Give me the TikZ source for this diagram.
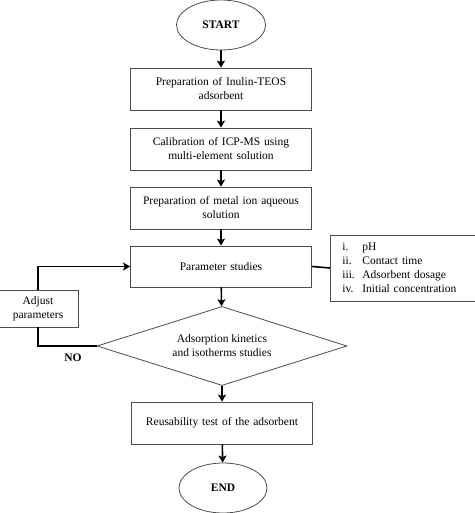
\documentclass[tikz,border=0pt]{standalone}
\usepackage{fontspec}
\setmainfont{Liberation Serif}
\usetikzlibrary{shapes.geometric,arrows.meta}
\begin{document}
\begin{tikzpicture}[x=1pt,y=-1pt,>={Stealth[length=7pt,width=8pt,inset=1.5pt]}]
  \tikzstyle{term}=[draw=black!70, line width=0.8pt, ellipse, minimum width=89pt, minimum height=50pt,
    font=\fontsize{11.5}{14}\selectfont\bfseries]
  \tikzstyle{procbox}=[draw=black!70, line width=0.8pt, minimum width=181pt, minimum height=42pt,
    text width=174pt, align=center, font=\fontsize{11.5}{14}\selectfont]
  \tikzstyle{flow}=[->, line width=1.6pt]
  \useasboundingbox (0,0) rectangle (474,513);

  \node[term] (start) at (221,25) {START};
  \node[procbox] (prep) at (221,89) {Preparation of Inulin-TEOS\\adsorbent};
  \node[procbox] (calib) at (221,149) {Calibration of ICP-MS using\\multi-element solution};
  \node[procbox] (metal) at (221,208) {Preparation of metal ion aqueous\\solution};
  \node[procbox, minimum height=41pt] (param) at (221,266.5) {Parameter studies};
  \node[draw=black!70, line width=0.8pt, diamond, shape aspect=3.16, minimum width=250pt,
    minimum height=79pt, inner sep=1pt, align=center, font=\fontsize{11.5}{14}\selectfont]
    (ads) at (222,346) {Adsorption kinetics\\and isotherms studies};
  \node[procbox] (reuse) at (222,423) {Reusability test of the adsorbent};
  \node[term, minimum width=88pt] (stop) at (223,488) {END};

  \node[draw=black!70, line width=0.8pt, minimum width=80pt, minimum height=37pt, align=center,
    font=\fontsize{11.5}{14}\selectfont] (adj) at (38,308.5) {Adjust\\parameters};
  \node[draw=black!70, line width=0.8pt, anchor=west, minimum height=66pt, text width=132pt,
    inner xsep=12pt, align=left, font=\fontsize{11.5}{14}\selectfont] (factors) at (330,268)
    {\makebox[20pt][l]{i.}pH\\\makebox[20pt][l]{ii.}Contact time\\
     \makebox[20pt][l]{iii.}Adsorbent dosage\\\makebox[20pt][l]{iv.}Initial concentration};

  \draw[flow] (start) -- (prep);
  \draw[flow] (prep) -- (calib);
  \draw[flow] (calib) -- (metal);
  \draw[flow] (metal) -- (param);
  \draw[flow] (param) -- (ads);
  \draw[flow] (ads) -- (reuse);
  \draw[flow] (reuse) -- (stop);
  \draw[line width=1.6pt] (param.east) -- (factors.west);
  \draw[line width=1.6pt] (ads.west) -| (adj.south);
  \draw[flow] (adj.north) |- (param.west);
  \node[font=\fontsize{11.5}{14}\selectfont\bfseries] (no) at (73,358) {NO};
\end{tikzpicture}
\end{document}
